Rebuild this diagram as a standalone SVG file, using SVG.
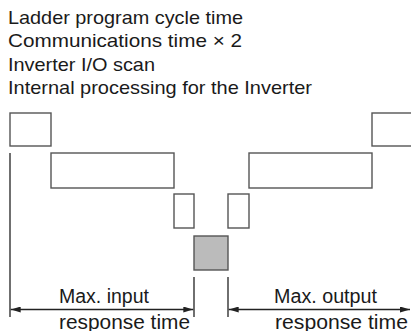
<svg xmlns="http://www.w3.org/2000/svg" width="411" height="331" viewBox="0 0 411 331">
<style>
.t{font-family:"Liberation Sans",Arial,sans-serif;fill:#1a1a1a}
.h{font-size:18.5px}
.b{font-size:19.5px}
.box{fill:#fff;stroke:#555;stroke-width:1.4}
.ln{stroke:#222;stroke-width:1.3;fill:none}
</style>
<defs>
<marker id="ah" viewBox="0 0 10 6" refX="10" refY="3" markerWidth="10" markerHeight="6" markerUnits="userSpaceOnUse" orient="auto-start-reverse">
<path d="M0,0 L10,3 L0,6 Z" fill="#222"/>
</marker>
</defs>
<g id="legend">
<text class="t h" x="8" y="23.5" textLength="235" lengthAdjust="spacingAndGlyphs">Ladder program cycle time</text>
<text class="t h" x="8" y="47" textLength="234" lengthAdjust="spacingAndGlyphs">Communications time × 2</text>
<text class="t h" x="8" y="70.5" textLength="147" lengthAdjust="spacingAndGlyphs">Inverter I/O scan</text>
<text class="t h" x="8" y="94" textLength="304" lengthAdjust="spacingAndGlyphs">Internal processing for the Inverter</text>
</g>
<g id="ladder-left"><rect class="box" x="10" y="113" width="41" height="33"/></g>
<g id="comm-left"><rect class="box" x="51" y="153" width="123" height="35"/></g>
<g id="io-left"><rect class="box" x="174" y="194" width="20" height="34"/></g>
<g id="internal"><rect x="194" y="236" width="34" height="34" fill="#bbb" stroke="#555" stroke-width="1.4"/></g>
<g id="io-right"><rect class="box" x="228" y="194" width="21" height="34"/></g>
<g id="comm-right"><rect class="box" x="249" y="153" width="123" height="35"/></g>
<g id="ladder-right"><rect class="box" x="372" y="113" width="50" height="33"/></g>
<g id="connectors">
<line class="ln" x1="10" y1="153" x2="10" y2="317"/>
<line class="ln" x1="194" y1="277" x2="194" y2="317"/>
<line class="ln" x1="228" y1="277" x2="228" y2="317"/>
<line class="ln" x1="10.7" y1="309.5" x2="193.3" y2="309.5" marker-start="url(#ah)" marker-end="url(#ah)"/>
<line class="ln" x1="228.7" y1="309.5" x2="410" y2="309.5" marker-start="url(#ah)" marker-end="url(#ah)"/>
</g>
<g id="labels">
<text class="t b" x="59" y="303" textLength="90" lengthAdjust="spacingAndGlyphs">Max. input</text>
<text class="t b" x="59" y="328.5" textLength="131" lengthAdjust="spacingAndGlyphs">response time</text>
<text class="t b" x="274" y="303" textLength="103" lengthAdjust="spacingAndGlyphs">Max. output</text>
<text class="t b" x="275" y="328.5" textLength="133" lengthAdjust="spacingAndGlyphs">response time</text>
</g>
</svg>
